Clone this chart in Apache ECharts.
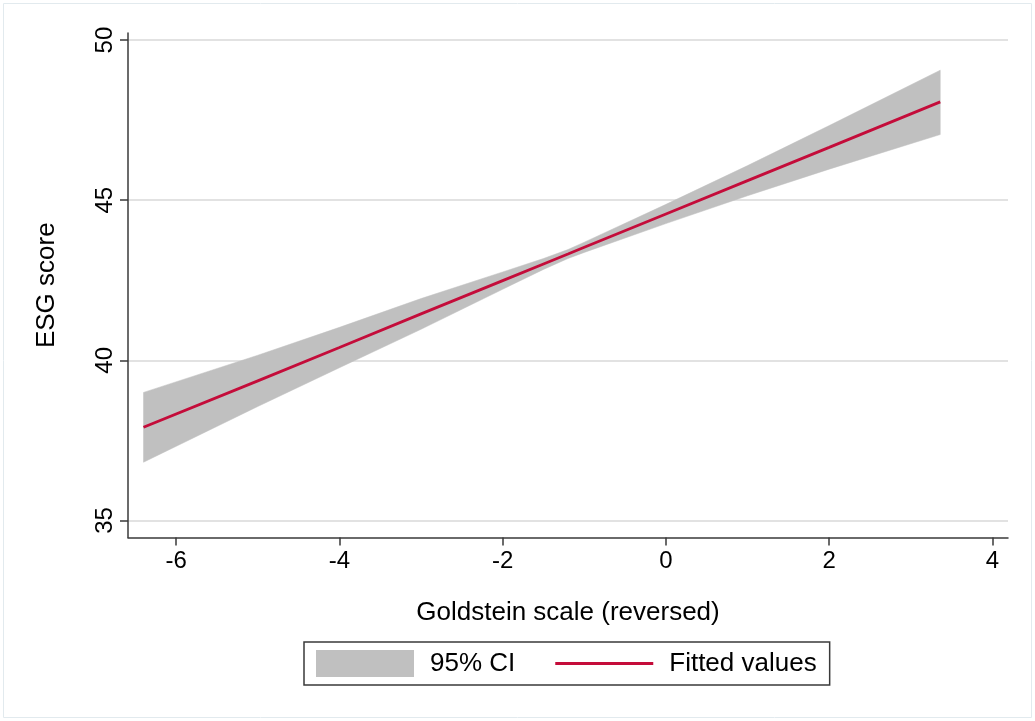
<!DOCTYPE html>
<html>
<head>
<meta charset="utf-8">
<script src="https://cdn.jsdelivr.net/npm/echarts@6/dist/echarts.min.js"></script>
<style>
  html, body { margin: 0; padding: 0; background: #ffffff; }
  #chart { width: 1035px; height: 721px; }
</style>
</head>
<body>
<div id="chart"></div>
<script>
// Goldstein scale (reversed) values where the fit is evaluated
const goldstein = [-6.4, -5, -4, -3, -2, -1.5, -1.2, -1, 0, 1, 2, 3.36];
// Linear prediction of ESG score
const fittedValues = [37.91, 39.36, 40.40, 41.45, 42.49, 43.01, 43.32, 43.53, 44.57, 45.61, 46.65, 48.07];
// 95% confidence band
const ciUpper = [39.00, 40.16, 41.03, 41.93, 42.76, 43.18, 43.46, 43.69, 44.87, 46.08, 47.33, 49.06];
const ciLower = [36.82, 38.56, 39.77, 40.97, 42.22, 42.84, 43.18, 43.37, 44.27, 45.14, 45.97, 47.05];
// Axis tick positions
const xTicks = [-6, -4, -2, 0, 2, 4];
const yTicks = [35, 40, 45, 50];

const FONT = '"Liberation Sans", Arial, sans-serif';
const AXIS_COLOR = '#3a3a3a';
const BAND_COLOR = '#c0c0c0';
const LINE_COLOR = '#c40c3a';

const chart = echarts.init(document.getElementById('chart'), null, { renderer: 'canvas' });

// Confidence band drawn as one polygon: upper edge left→right, lower edge right→left
function renderBand(params, api) {
  if (params.dataIndex !== 0) return null;
  const pts = [];
  for (let i = 0; i < goldstein.length; i++) pts.push(api.coord([goldstein[i], ciUpper[i]]));
  for (let i = goldstein.length - 1; i >= 0; i--) pts.push(api.coord([goldstein[i], ciLower[i]]));
  return {
    type: 'polygon',
    shape: { points: pts },
    style: { fill: BAND_COLOR, stroke: BAND_COLOR, lineWidth: 0.5 },
    silent: true
  };
}

const option = {
  backgroundColor: '#ffffff',
  animation: false,
  textStyle: { fontFamily: FONT, color: '#000' },
  graphic: [{
    type: 'rect',
    shape: { x: 3.5, y: 3.5, width: 1028, height: 714 },
    style: { fill: 'none', stroke: '#e2eaee', lineWidth: 1 },
    silent: true,
    z: -10
  }],
  grid: { left: 128, right: 27, top: 33, bottom: 183.5, containLabel: false },
  xAxis: {
    type: 'value',
    min: -6.59,
    max: 4.19,
    name: 'Goldstein scale (reversed)',
    nameLocation: 'middle',
    nameGap: 62,
    nameTextStyle: { fontSize: 26, fontFamily: FONT, color: '#000' },
    axisLine: { show: true, onZero: false, lineStyle: { color: AXIS_COLOR, width: 1.5 } },
    axisTick: { show: true, length: 8, customValues: xTicks, lineStyle: { color: AXIS_COLOR, width: 1.5 } },
    axisLabel: { customValues: xTicks, fontSize: 24, margin: 12, color: '#000', fontFamily: FONT },
    splitLine: { show: false }
  },
  yAxis: {
    type: 'value',
    min: 34.47,
    max: 50.22,
    name: 'ESG score',
    nameLocation: 'middle',
    nameGap: 68,
    nameRotate: 90,
    nameTextStyle: { fontSize: 26, fontFamily: FONT, color: '#000' },
    axisLine: { show: true, onZero: false, lineStyle: { color: AXIS_COLOR, width: 1.5 } },
    axisTick: { show: true, length: 8, customValues: yTicks, lineStyle: { color: AXIS_COLOR, width: 1.5 } },
    axisLabel: { customValues: yTicks, fontSize: 24, margin: 11, rotate: 90, color: '#000', fontFamily: FONT },
    splitLine: { show: true, lineStyle: { color: '#d9d9d9', width: 1.5 } }
  },
  legend: {
    left: 304,
    top: 642,
    orient: 'horizontal',
    data: [
      { name: '95% CI', icon: 'rect', itemStyle: { color: BAND_COLOR } },
      { name: 'Fitted values', icon: 'path://M0,0h98v3h-98z', itemStyle: { color: LINE_COLOR } }
    ],
    symbolKeepAspect: true,
    itemWidth: 98,
    itemHeight: 27,
    itemGap: 40,
    padding: [8, 13, 8, 12],
    borderColor: '#3a3a3a',
    borderWidth: 1.5,
    textStyle: { fontSize: 26, fontFamily: FONT, color: '#000', padding: [0, 0, 0, 11] }
  },
  series: [
    {
      name: '95% CI',
      type: 'custom',
      renderItem: renderBand,
      itemStyle: { color: BAND_COLOR },
      data: goldstein.map((x, i) => [x, ciUpper[i], ciLower[i]]),
      encode: { x: 0, y: [1, 2] },
      z: 1
    },
    {
      name: 'Fitted values',
      type: 'line',
      symbol: 'none',
      showSymbol: false,
      lineStyle: { color: LINE_COLOR, width: 2.8 },
      itemStyle: { color: LINE_COLOR },
      z: 5,
      data: goldstein.map((x, i) => [x, fittedValues[i]])
    }
  ]
};

chart.setOption(option);
</script>
</body>
</html>
